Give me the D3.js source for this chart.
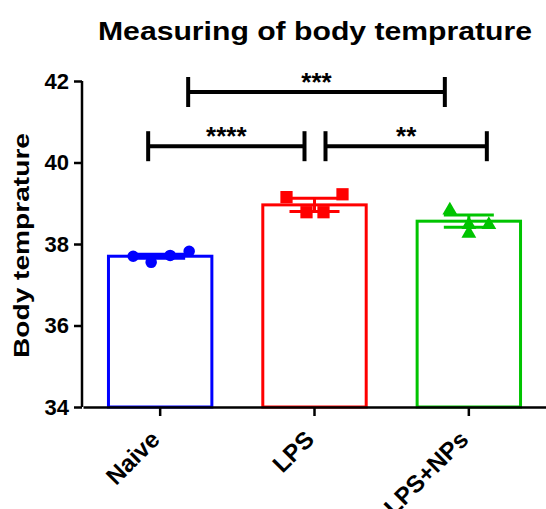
<!DOCTYPE html>
<html>
<head>
<meta charset="utf-8">
<script src="https://cdn.jsdelivr.net/npm/d3@7/dist/d3.min.js"></script>
<style>
  body { margin: 0; background: #fff; }
  text { font-family: "Liberation Sans", Arial, sans-serif; }
</style>
</head>
<body>
<svg id="chart" width="546" height="509"></svg>
<script>
// ---- data ----
const categories = ["Naive", "LPS", "LPS+NPs"];
const means = [37.70, 38.96, 38.56];
const sems = [0.05, 0.16, 0.15];
const naivePoints = [37.70, 37.55, 37.72, 37.82];
const lpsPoints = [39.15, 38.78, 38.78, 39.22];
const lpsNpsPoints = [38.83, 38.47, 38.26, 38.47];
const yTicks = [34, 36, 38, 40, 42];
const brackets = [
  { from: "Naive", to: "LPS+NPs", level: 41.73, label: "***" },
  { from: "Naive", to: "LPS", level: 40.40, label: "****" },
  { from: "LPS", to: "LPS+NPs", level: 40.40, label: "**" }
];

// ---- styles / layout ----
const colors = ["#0000ff", "#ff0000", "#00c400"];
const symbols = [d3.symbolCircle, d3.symbolSquare, d3.symbolTriangle];
const symbolSizes = [105, 150, 95];
const jitter = [[-27, -9, 10, 29], [-28, -8, 9, 28], [-19, 0, 0, 20]];
const bracketOffsets = [[28, -24], [-12, -10], [11, 18]];
const allPoints = [naivePoints, lpsPoints, lpsNpsPoints];

const svg = d3.select("#chart");
const x = d3.scaleBand().domain(categories).range([83, 546]).paddingInner(0.33).paddingOuter(0.165);
const y = d3.scaleLinear().domain([34, 42]).range([407, 81]);

// title
svg.append("text")
  .attr("x", 98).attr("y", 40)
  .attr("font-size", 25).attr("font-weight", "bold")
  .attr("textLength", 434).attr("lengthAdjust", "spacingAndGlyphs")
  .text("Measuring of body temprature");

// y label
svg.append("text")
  .attr("transform", "translate(29,245.5) rotate(-90)")
  .attr("text-anchor", "middle")
  .attr("font-size", 22).attr("font-weight", "bold")
  .attr("textLength", 225).attr("lengthAdjust", "spacingAndGlyphs")
  .text("Body temprature");

// bars
const bw = x.bandwidth();
svg.selectAll("rect.bar").data(categories).enter().append("rect")
  .attr("x", d => x(d))
  .attr("y", (d, i) => y(means[i]))
  .attr("width", bw)
  .attr("height", (d, i) => y(34) - y(means[i]))
  .attr("fill", "#fff")
  .attr("stroke", (d, i) => colors[i])
  .attr("stroke-width", 3);

// points
categories.forEach((c, i) => {
  const cx = x(c) + bw / 2;
  svg.selectAll(null).data(allPoints[i]).enter().append("path")
    .attr("d", d3.symbol().type(symbols[i]).size(symbolSizes[i]))
    .attr("transform", (v, j) => `translate(${cx + jitter[i][j]},${y(v)})`)
    .attr("fill", colors[i]);
});

// error bars
categories.forEach((c, i) => {
  const cx = x(c) + bw / 2;
  const g = svg.append("g").attr("stroke", colors[i]).attr("stroke-width", 3);
  const hi = y(means[i] + sems[i]), lo = y(means[i] - sems[i]);
  g.append("line").attr("x1", cx).attr("x2", cx).attr("y1", hi).attr("y2", lo);
  g.append("line").attr("x1", cx - 25).attr("x2", cx + 25).attr("y1", hi).attr("y2", hi);
  g.append("line").attr("x1", cx - 25).attr("x2", cx + 25).attr("y1", lo).attr("y2", lo);
});

// y axis
const yAxis = svg.append("g").attr("transform", "translate(82,0)")
  .call(d3.axisLeft(y).tickValues(yTicks).tickSize(8).tickPadding(5).tickSizeOuter(0));
yAxis.select(".domain").attr("stroke-width", 2.5).attr("d", `M0,${y(42)}V${y(34)}`);
yAxis.selectAll(".tick line").attr("stroke-width", 2.5);
yAxis.selectAll(".tick text").attr("font-size", 22).attr("font-weight", "bold")
  .attr("font-family", "Liberation Sans, Arial, sans-serif").attr("fill", "#000");

// x axis
const xAxis = svg.append("g").attr("transform", "translate(0,407)")
  .call(d3.axisBottom(x).tickSize(9).tickSizeOuter(0));
xAxis.select(".domain").attr("stroke-width", 2.5);
xAxis.selectAll(".tick line").attr("stroke-width", 2.5);
xAxis.selectAll(".tick text")
  .attr("font-size", 24).attr("font-weight", "bold")
  .attr("font-family", "Liberation Sans, Arial, sans-serif").attr("fill", "#000")
  .attr("text-anchor", "end")
  .attr("transform", "translate(1,34) rotate(-45)")
  .attr("dy", 0).attr("y", 0);

// significance brackets
brackets.forEach((b, i) => {
  const x1 = x(b.from) + bw / 2 + bracketOffsets[i][0];
  const x2 = x(b.to) + bw / 2 + bracketOffsets[i][1];
  const yy = y(b.level);
  const g = svg.append("g").attr("stroke", "#000").attr("stroke-width", 4);
  g.append("line").attr("x1", x1).attr("x2", x2).attr("y1", yy).attr("y2", yy);
  g.append("line").attr("x1", x1).attr("x2", x1).attr("y1", yy - 15).attr("y2", yy + 15);
  g.append("line").attr("x1", x2).attr("x2", x2).attr("y1", yy - 15).attr("y2", yy + 15);
  svg.append("text")
    .attr("x", (x1 + x2) / 2).attr("y", yy - 1)
    .attr("text-anchor", "middle")
    .attr("font-size", 26).attr("font-weight", "bold")
    .text(b.label);
});
</script>
</body>
</html>
